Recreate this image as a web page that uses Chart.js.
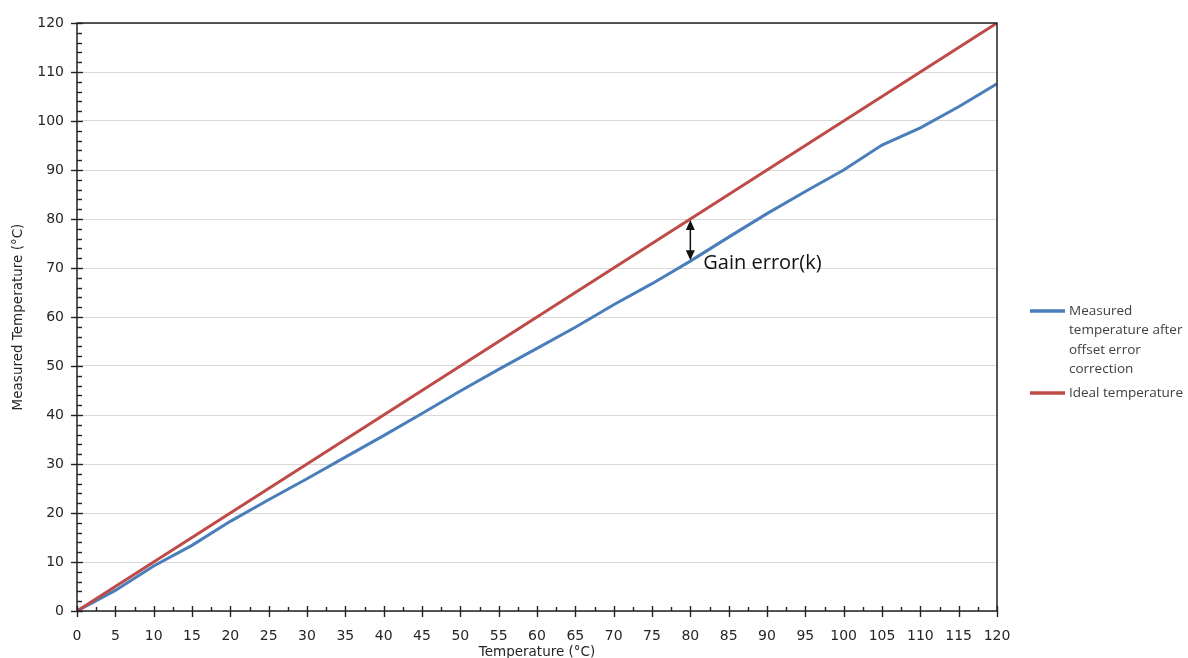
<!DOCTYPE html>
<html>
<head>
<meta charset="utf-8">
<script src="https://cdn.jsdelivr.net/npm/chart.js@4.4.1/dist/chart.umd.min.js"></script>
<style>
  html, body { margin: 0; padding: 0; background: #ffffff; }
  #wrap { width: 1188px; height: 658px; position: relative; }
</style>
</head>
<body>
<div id="wrap"><canvas id="c" width="1188" height="658"></canvas></div>
<script>
// ---- data ----
const temperatures = [0,5,10,15,20,25,30,35,40,45,50,55,60,65,70,75,80,85,90,95,100,105,110,115,120];
const measuredAfterOffset = [0,4.2,9.2,13.4,18.3,22.7,27.0,31.4,35.8,40.3,44.9,49.3,53.6,57.9,62.5,66.8,71.4,76.3,81.1,85.6,90.0,95.1,98.6,102.9,107.6];
const idealTemperature = [0,5,10,15,20,25,30,35,40,45,50,55,60,65,70,75,80,85,90,95,100,105,110,115,120];
const seriesNames = ["Measured temperature after offset error correction", "Ideal temperature"];
const legendLines = [["Measured", "temperature after", "offset error", "correction"], ["Ideal temperature"]];
const xTitle = "Temperature (°C)";
const yTitle = "Measured Temperature (°C)";
const annotationText = "Gain error(k)";
const annotationAt = 80;

const BLUE = "#4a7ebb";
const RED = "#be4b48";
const AXIS_FONT = "'DejaVu Sans', Verdana, sans-serif";

const toPts = (xs, ys) => xs.map((x, i) => ({ x: x, y: ys[i] }));

const frame = {
  id: "frame",
  afterDatasetsDraw(chart) {
    const { ctx, chartArea: a, scales: { x, y } } = chart;
    ctx.save();
    // annotation arrow
    const px = x.getPixelForValue(annotationAt);
    const idx = temperatures.indexOf(annotationAt);
    const yTop = y.getPixelForValue(idealTemperature[idx]);
    const yBot = y.getPixelForValue(measuredAfterOffset[idx]);
    ctx.strokeStyle = "#111";
    ctx.fillStyle = "#111";
    ctx.lineWidth = 1.5;
    ctx.beginPath();
    ctx.moveTo(px, yTop + 8);
    ctx.lineTo(px, yBot - 8);
    ctx.stroke();
    ctx.beginPath();
    ctx.moveTo(px, yTop + 1); ctx.lineTo(px - 4.5, yTop + 11); ctx.lineTo(px + 4.5, yTop + 11); ctx.closePath(); ctx.fill();
    ctx.beginPath();
    ctx.moveTo(px, yBot - 1); ctx.lineTo(px - 4.5, yBot - 11); ctx.lineTo(px + 4.5, yBot - 11); ctx.closePath(); ctx.fill();
    ctx.font = "20px 'Open Sans', sans-serif";
    ctx.textAlign = "left";
    ctx.textBaseline = "middle";
    ctx.fillStyle = "#111";
    ctx.fillText(annotationText, px + 13, yBot + 2);

    // plot frame
    ctx.strokeStyle = "#222";
    ctx.lineWidth = 1.5;
    ctx.strokeRect(a.left, a.top, a.right - a.left, a.bottom - a.top);

    // y ticks
    ctx.lineWidth = 1.4;
    for (let v = 0; v <= 120; v += 2) {
      const py = Math.round(y.getPixelForValue(v)) + 0.5;
      ctx.beginPath();
      if (v % 10 === 0) { ctx.moveTo(a.left - 6, py); ctx.lineTo(a.left + 6, py); }
      else { ctx.moveTo(a.left, py); ctx.lineTo(a.left + 5, py); }
      ctx.stroke();
    }
    // x ticks
    for (let v = 0; v <= 120; v += 2.5) {
      const xx = Math.round(x.getPixelForValue(v)) + 0.5;
      ctx.beginPath();
      if (v % 5 === 0) { ctx.moveTo(xx, a.bottom - 5); ctx.lineTo(xx, a.bottom + 6); }
      else { ctx.moveTo(xx, a.bottom - 4); ctx.lineTo(xx, a.bottom); }
      ctx.stroke();
    }

    // legend
    const colors = [BLUE, RED];
    const lx = a.right + 33;
    let ly = 311;
    ctx.font = "13.5px 'Open Sans', sans-serif";
    ctx.textBaseline = "middle";
    legendLines.forEach((lines, i) => {
      ctx.strokeStyle = colors[i];
      ctx.lineWidth = 3.5;
      ctx.beginPath();
      ctx.moveTo(lx, ly); ctx.lineTo(lx + 35, ly);
      ctx.stroke();
      ctx.fillStyle = "#404040";
      lines.forEach((t, j) => ctx.fillText(t, lx + 39, ly + j * 19.5));
      ly += lines.length * 19.5 + 4;
    });
    ctx.restore();
  }
};

new Chart(document.getElementById("c"), {
  type: "line",
  data: {
    datasets: [
      { label: seriesNames[0], data: toPts(temperatures, measuredAfterOffset), borderColor: BLUE, backgroundColor: BLUE, borderWidth: 3, pointRadius: 0, tension: 0, order: 2 },
      { label: seriesNames[1], data: toPts(temperatures, idealTemperature), borderColor: RED, backgroundColor: RED, borderWidth: 3, pointRadius: 0, tension: 0, order: 1 }
    ]
  },
  options: {
    responsive: false,
    animation: false,
    events: [],
    layout: { padding: { top: 23, right: 191, left: 0, bottom: 0 } },
    plugins: { legend: { display: false }, tooltip: { enabled: false } },
    scales: {
      x: {
        type: "linear", min: 0, max: 120,
        afterFit(s) { s.height = 47; },
        grid: { display: false, drawTicks: false },
        border: { display: false },
        ticks: { stepSize: 5, padding: 17, maxRotation: 0, autoSkip: false, color: "#262626", font: { family: AXIS_FONT, size: 14 } },
        title: { display: true, text: xTitle, color: "#262626", padding: { top: 0, bottom: -3 }, font: { family: AXIS_FONT, size: 13.5 } }
      },
      y: {
        type: "linear", min: 0, max: 120,
        afterFit(s) { s.width = 77; },
        grid: { color: "#d9d9d9", lineWidth: 1, drawTicks: false },
        border: { display: false },
        ticks: { stepSize: 10, padding: 13, color: "#262626", font: { family: AXIS_FONT, size: 14 } },
        title: { display: true, text: yTitle, color: "#262626", padding: { top: 10, bottom: 0 }, font: { family: AXIS_FONT, size: 13.5 } }
      }
    }
  },
  plugins: [frame]
});
</script>
</body>
</html>
